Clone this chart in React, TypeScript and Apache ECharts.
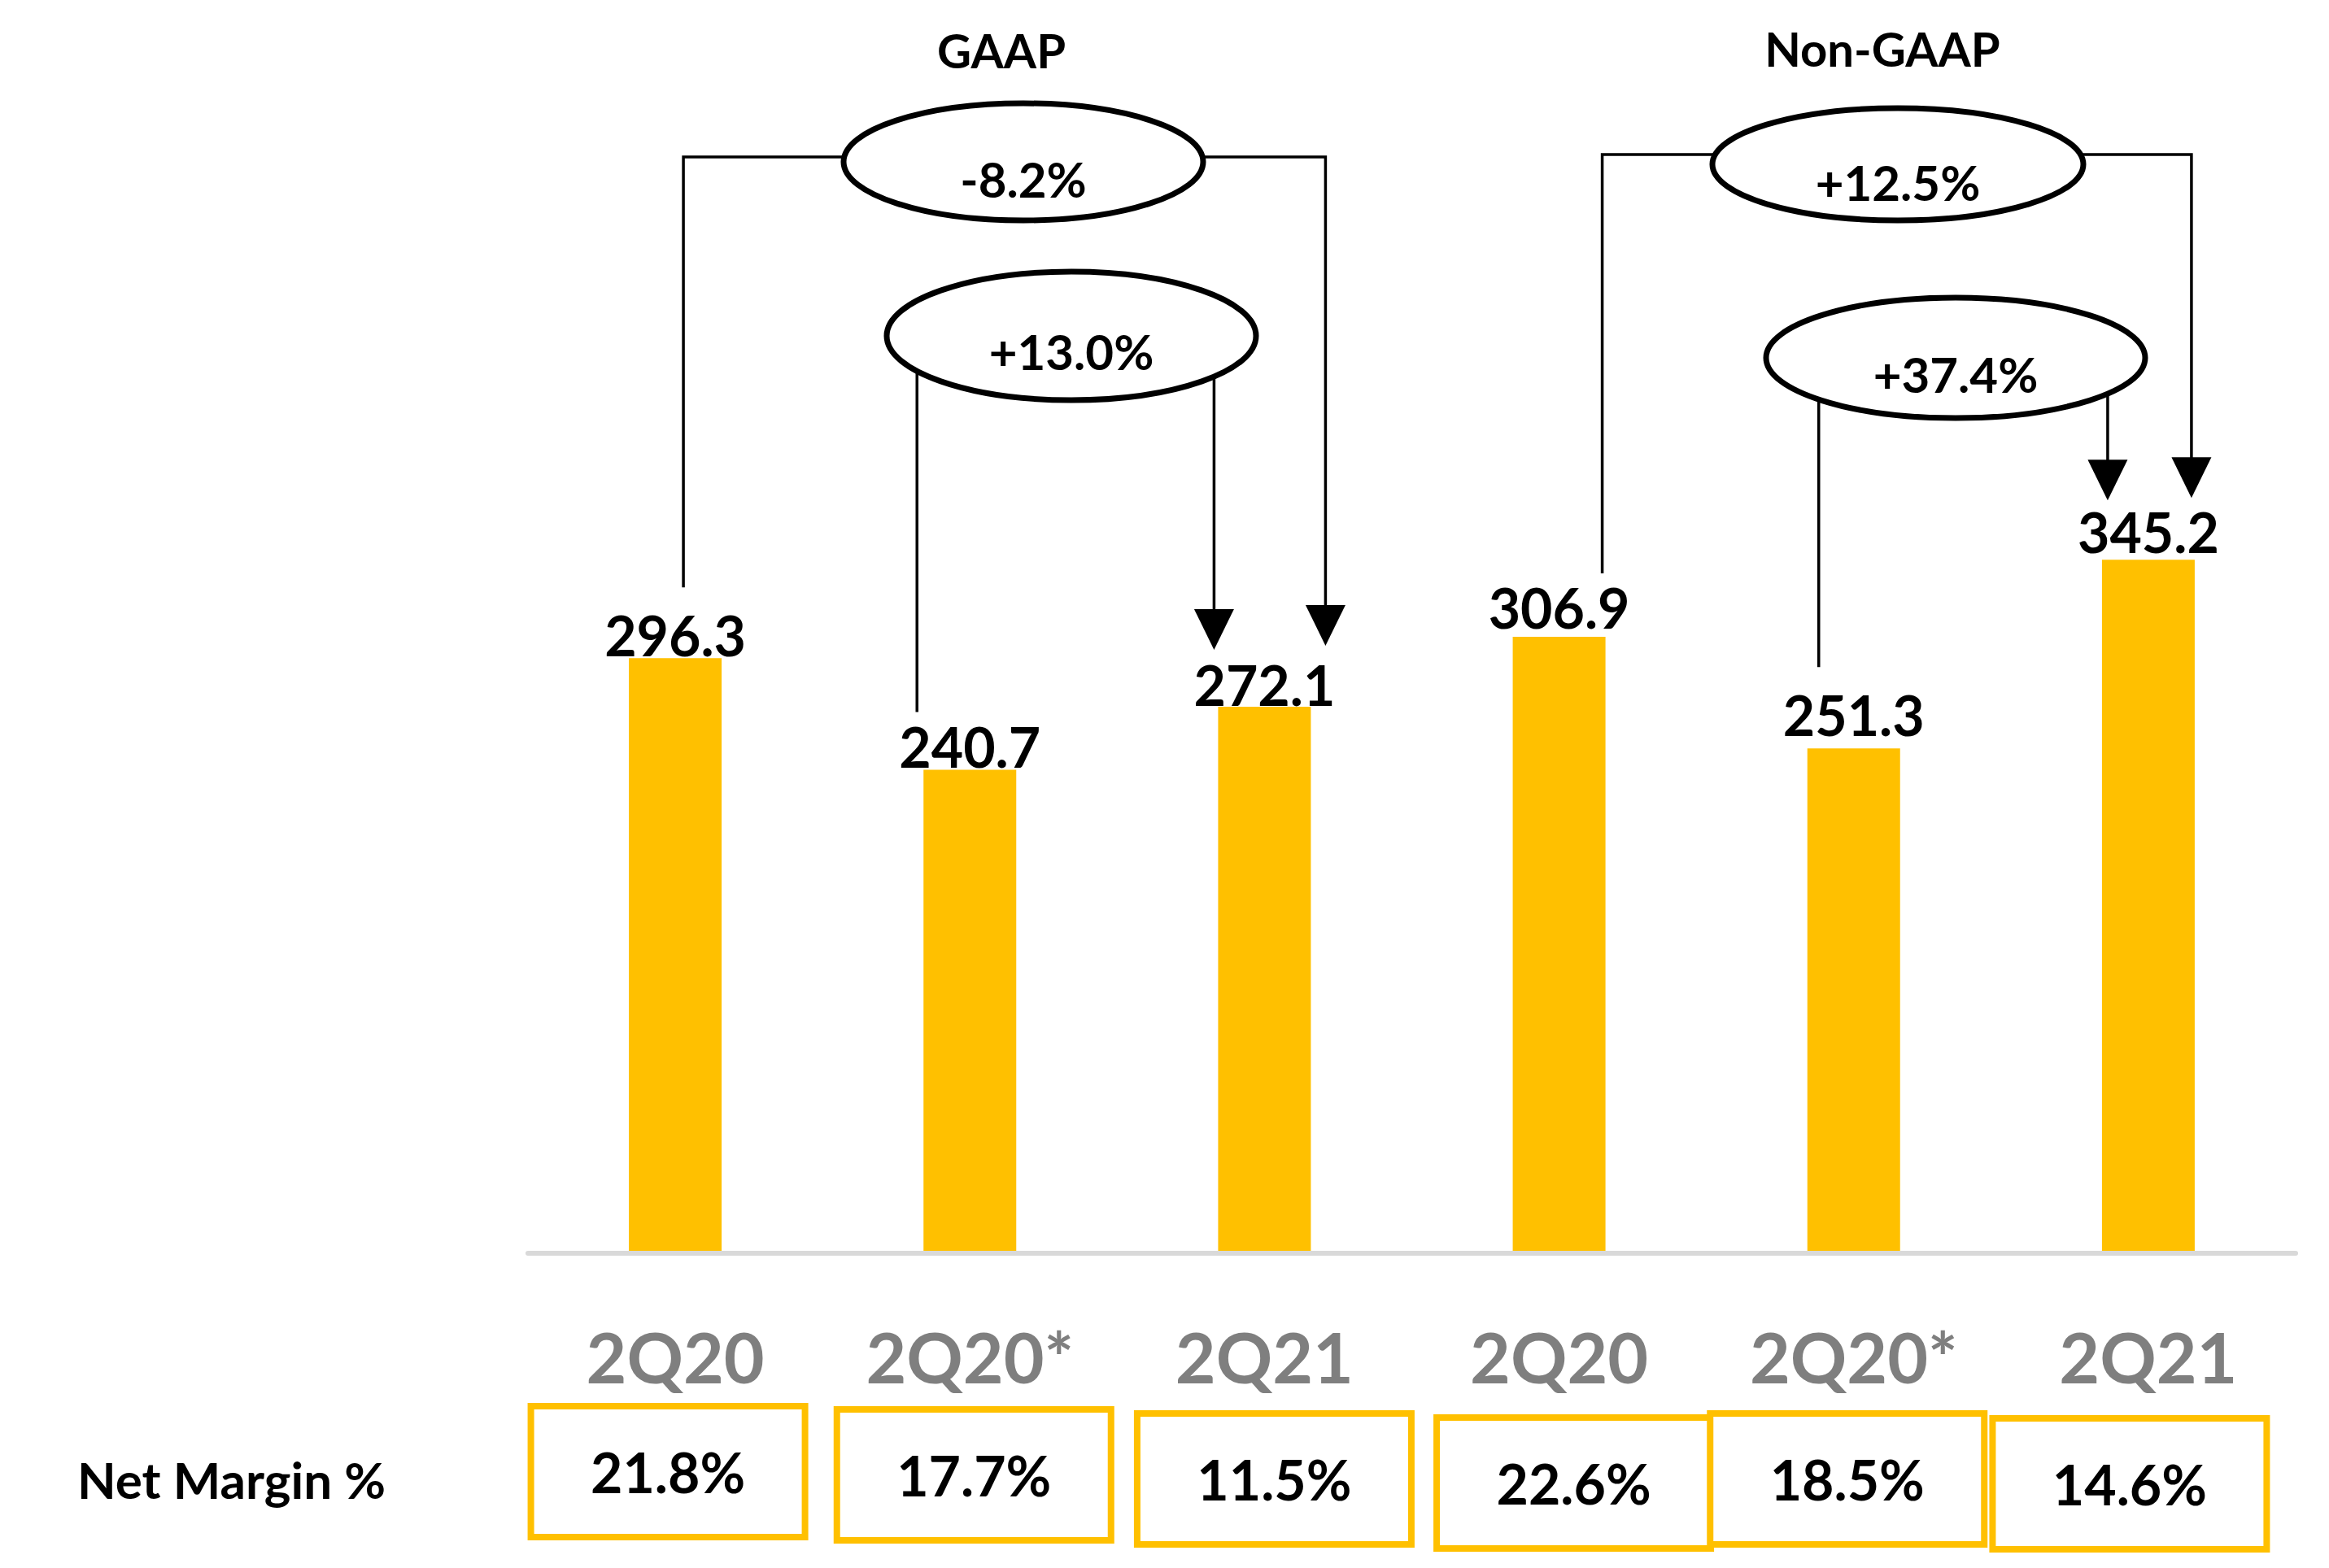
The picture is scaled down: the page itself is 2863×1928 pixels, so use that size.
import React, { useEffect, useRef } from "react";
import * as echarts from "echarts";

// ---- data ----
const categories = ["2Q20", "2Q20*", "2Q21", "2Q20", "2Q20*", "2Q21"];
const netIncome = [296.3, 240.7, 272.1, 306.9, 251.3, 345.2];
const netMargin = [21.8, 17.7, 11.5, 22.6, 18.5, 14.6];
const groupTitles = ["GAAP", "Non-GAAP"];
const changeLabels = ["-8.2%", "+13.0%", "+12.5%", "+37.4%"];
const changeFrom = [0, 1, 3, 4];
const changeTo = [2, 2, 5, 5];
const rowTitle = "Net Margin %";

// ---- layout (pixels) ----
const FONT = "Lato";
const YELLOW = "#FFC000";
const W = 2863;
const H = 1928;
const titlePos = [
  [1231, 61],
  [2314, 59],
];
const labelDistance = [-5, -5, -7, 2, 8, 1];
// bracket annotation layout: ellipse centre / radii, text y, connector offsets
const bracketLayout = [
  { cx: 1258, cy: 199, rx: 221, ry: 72, ty: 220, fromDx: 10, fromGap: 87, toDx: 75, toGap: 75, topY: 193 },
  { cx: 1317, cy: 413, rx: 227, ry: 79, ty: 432, fromDx: -65, fromGap: 71, toDx: -62, toGap: 70, topY: null },
  { cx: 2333, cy: 202, rx: 228, ry: 69, ty: 224, fromDx: 53, fromGap: 78, toDx: 53, toGap: 76, topY: 190 },
  { cx: 2404, cy: 440, rx: 233, ry: 74, ty: 460, fromDx: -43, fromGap: 100, toDx: -50, toGap: 73, topY: null },
];
const boxDx = [-9, 5, 12, 18, -8, -23];
const boxDy = [184, 188, 193, 198, 193, 199];
const BOX_W = 345;
const BOX_H = 169;
const BOX_LW = 8;

export default function App() {
  const ref = useRef<HTMLDivElement>(null);

  useEffect(() => {
    if (!ref.current) return;
    const chart = echarts.init(ref.current, null, { renderer: "svg" });
    chart.setOption({
      animation: false,
      backgroundColor: "#ffffff",
      grid: { left: 649, right: W - 2822, top: 306, bottom: H - 1541, containLabel: false },
      xAxis: {
        type: "category",
        data: categories,
        z: 3,
        axisLine: { show: true, lineStyle: { color: "#D9D9D9", width: 6 } },
        axisTick: { show: false },
        axisLabel: {
          interval: 0,
          color: "#7F7F7F",
          fontSize: 86,
          fontWeight: "bold",
          fontFamily: FONT,
          margin: 83,
        },
        splitLine: { show: false },
      },
      yAxis: { type: "value", min: 0, max: 500, show: false, splitLine: { show: false } },
      series: [
        {
          type: "bar",
          data: netIncome.map((v, i) => ({ value: v, label: { distance: labelDistance[i] } })),
          barWidth: 114,
          itemStyle: { color: YELLOW },
          label: {
            show: true,
            position: "top",
            distance: -5,
            color: "#000",
            fontSize: 68,
            fontWeight: "bold",
            fontFamily: FONT,
            formatter: (p: any) => Number(p.value).toFixed(1),
          },
          silent: true,
        },
        {
          type: "custom",
          data: netMargin.map((v, i) => [i, v]),
          encode: { x: 0, y: 1 },
          silent: true,
          z: 5,
          renderItem: (params: any, api: any) => {
            const i = api.value(0);
            const pt = api.coord([i, 0]);
            const cx = pt[0] + boxDx[i];
            const top = pt[1] + boxDy[i];
            return {
              type: "group",
              children: [
                {
                  type: "rect",
                  shape: {
                    x: cx - BOX_W / 2 + BOX_LW / 2,
                    y: top + BOX_LW / 2,
                    width: BOX_W - BOX_LW,
                    height: BOX_H - BOX_LW,
                  },
                  style: { fill: "#fff", stroke: YELLOW, lineWidth: BOX_LW },
                },
                {
                  type: "text",
                  style: {
                    text: `${netMargin[i].toFixed(1)}%`,
                    x: cx,
                    y: top + BOX_H / 2,
                    fill: "#000",
                    fontSize: 68,
                    fontWeight: "bold",
                    fontFamily: FONT,
                    align: "center",
                    verticalAlign: "middle",
                  },
                },
              ],
            };
          },
        },
      ],
    });

    const px = (i: number, v: number) =>
      chart.convertToPixel({ gridIndex: 0 }, [i, v]) as number[];

    const els: any[] = [];
    const LINE = 3.5;
    const lineStyle = { stroke: "#000", lineWidth: LINE };

    // titles
    groupTitles.forEach((t, k) => {
      els.push({
        type: "text",
        x: titlePos[k][0],
        y: titlePos[k][1],
        z: 20,
        style: {
          text: t,
          fill: "#000",
          fontSize: 58,
          fontWeight: "bold",
          fontFamily: FONT,
          align: "center",
          verticalAlign: "middle",
        },
      });
    });

    // row title
    els.push({
      type: "text",
      x: 95,
      y: 1819,
      z: 20,
      style: {
        text: rowTitle,
        fill: "#000",
        fontSize: 62,
        fontWeight: "bold",
        fontFamily: FONT,
        align: "left",
        verticalAlign: "middle",
      },
    });

    // brackets
    changeLabels.forEach((lab, k) => {
      const L = bracketLayout[k];
      const a = changeFrom[k];
      const b = changeTo[k];
      const pa = px(a, netIncome[a]);
      const pb = px(b, netIncome[b]);
      const x1 = pa[0] + L.fromDx;
      const y1 = pa[1] - L.fromGap;
      const x2 = pb[0] + L.toDx;
      const tip = pb[1] - L.toGap;
      const headH = 50;
      const headW = 49;
      if (L.topY !== null) {
        els.push({
          type: "polyline",
          z: 10,
          shape: { points: [[x1, y1], [x1, L.topY], [L.cx, L.topY]] },
          style: { ...lineStyle, fill: null },
        });
        els.push({
          type: "polyline",
          z: 10,
          shape: { points: [[L.cx, L.topY], [x2, L.topY], [x2, tip - headH + 2]] },
          style: { ...lineStyle, fill: null },
        });
      } else {
        els.push({
          type: "line",
          z: 10,
          shape: { x1: x1, y1: L.cy, x2: x1, y2: y1 },
          style: lineStyle,
        });
        els.push({
          type: "line",
          z: 10,
          shape: { x1: x2, y1: L.cy, x2: x2, y2: tip - headH + 2 },
          style: lineStyle,
        });
      }
      els.push({
        type: "polygon",
        z: 10,
        shape: {
          points: [
            [x2 - headW / 2, tip - headH],
            [x2 + headW / 2, tip - headH],
            [x2, tip],
          ],
        },
        style: { fill: "#000" },
      });
      els.push({
        type: "ellipse",
        z: 11,
        shape: { cx: L.cx, cy: L.cy, rx: L.rx, ry: L.ry },
        style: { fill: "#fff", stroke: "#000", lineWidth: 7 },
      });
      els.push({
        type: "text",
        z: 12,
        x: L.cx,
        y: L.ty,
        style: {
          text: lab,
          fill: "#000",
          fontSize: 60,
          fontWeight: "bold",
          fontFamily: FONT,
          align: "center",
          verticalAlign: "middle",
        },
      });
    });

    chart.setOption({ graphic: { elements: els } });

    return () => chart.dispose();
  }, []);

  return (
    <div
      ref={ref}
      style={{ position: "absolute", left: 0, top: 0, width: W, height: H, background: "#fff" }}
    />
  );
}
